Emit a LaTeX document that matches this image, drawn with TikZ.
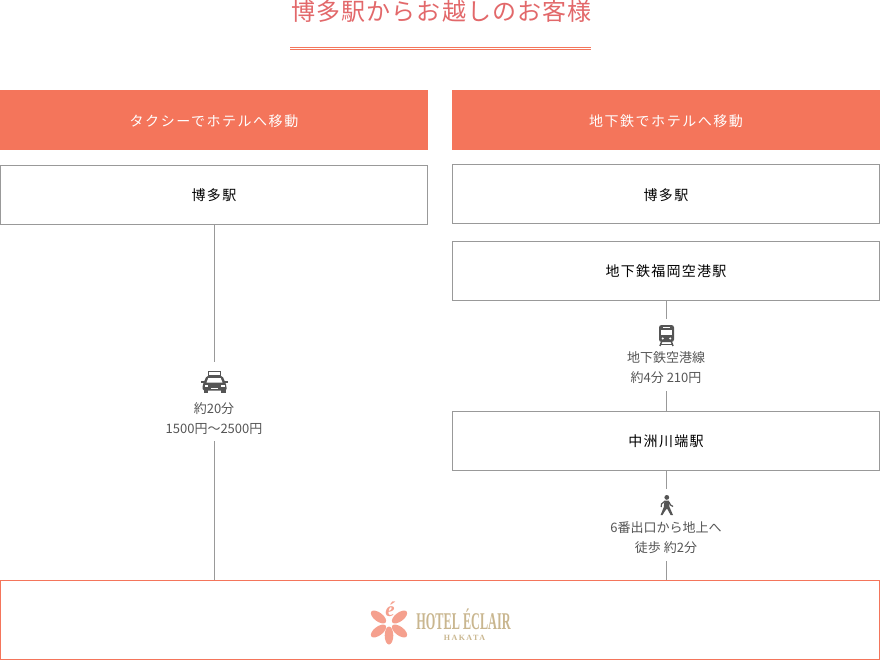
\documentclass[tikz,border=0pt]{standalone}
\usepackage{fontspec}
\setmainfont{Noto Sans CJK JP}
\newfontfamily\logoserif{Liberation Serif}
\definecolor{headerfill}{HTML}{F4755B}
\definecolor{titlered}{HTML}{E2686A}
\definecolor{boxline}{HTML}{999999}
\definecolor{notegray}{HTML}{555555}
\definecolor{icongray}{HTML}{555555}
\definecolor{petal}{HTML}{F5A08E}
\definecolor{logogold}{HTML}{C9B68F}
\begin{document}
\begin{tikzpicture}[x=1pt, y=-1pt,
    headerbox/.style={fill=headerfill, text=white, minimum width=428pt, minimum height=60pt, inner sep=0pt,
      text height=14pt, text depth=0pt,
      font=\fontsize{14}{16}\selectfont\addfontfeatures{LetterSpace=11}},
    stationbox/.style={draw=boxline, line width=0.7pt, fill=white, minimum width=427pt, minimum height=59pt, inner sep=0pt,
      text=black, font=\fontsize{14}{16}\selectfont\addfontfeatures{LetterSpace=9}},
    routeline/.style={draw=boxline, line width=0.7pt},
    iconslot/.style={minimum width=30pt, inner sep=0pt},
    routenote/.style={align=center, inner sep=0pt, text=notegray, minimum height=47pt,
      font=\fontsize{13}{20}\selectfont}]

  \useasboundingbox (0,0) rectangle (880,660);

  % ── Title ──────────────────────────────────────────────────────────
  \node[text=titlered, font=\fontsize{24}{26}\selectfont\addfontfeatures{LetterSpace=4.5}] (pageTitle) at (441.5,11) {博多駅からお越しのお客様};
  \draw[headerfill, line width=0.6pt] (290,47.3) -- (591,47.3);
  \draw[headerfill, line width=0.6pt] (290,49.3) -- (591,49.3);

  % ── Column headers ─────────────────────────────────────────────────
  \node[headerbox] (taxiHeader) at (214,120) {タクシーでホテルへ移動};
  \node[headerbox] (subwayHeader) at (666,120) {地下鉄でホテルへ移動};

  % ── Stations ───────────────────────────────────────────────────────
  \node[stationbox] (hakataLeft) at (214,195) {博多駅};
  \node[stationbox, text height=14pt, text depth=0pt] (hakataRight) at (666,194) {博多駅};
  \node[stationbox] (airportLine) at (666,271) {地下鉄福岡空港駅};
  \node[stationbox] (nakasu) at (666,441) {中洲川端駅};

  % ── Hotel ──────────────────────────────────────────────────────────
  \node[draw=headerfill, line width=0.7pt, minimum width=879pt, minimum height=79pt, inner sep=0pt] (hotelBox) at (440,620) {};

  % ── Route notes ────────────────────────────────────────────────────
  \node[iconslot, minimum height=38pt] (taxiIcon) at (214,381) {};
  \node[routenote, minimum height=45pt] (taxiNote) at (214,418.5) {約20分\\1500円〜2500円};
  \node[iconslot, minimum height=32pt] (trainIcon) at (666,335) {};
  \node[routenote] (trainNote) at (666,367.5) {地下鉄空港線\\約4分 210円};
  \node[iconslot, minimum height=32pt] (walkIcon) at (666,505) {};
  \node[routenote] (walkNote) at (666,537.5) {6番出口から地上へ\\徒歩 約2分};

  % ── Connectors ─────────────────────────────────────────────────────
  \draw[routeline] (hakataLeft.south) -- (taxiIcon.north);
  \draw[routeline] (taxiNote.south) -- (taxiNote.south |- hotelBox.north);
  \draw[routeline] (airportLine.south) -- (trainIcon.north);
  \draw[routeline] (trainNote.south) -- (nakasu.north);
  \draw[routeline] (nakasu.south) -- (walkIcon.north);
  \draw[routeline] (walkNote.south) -- (walkNote.south |- hotelBox.north);

  % ── Taxi icon ──────────────────────────────────────────────────────
  \draw[icongray, line width=0.9pt] (208.8,371.5) rectangle (220.2,375);
  \fill[icongray, rounded corners=1.5pt] (206.5,376) -- (222.5,376) -- (225.5,383) -- (226.5,386) -- (226.5,390.5) -- (202.5,390.5) -- (202.5,386) -- (203.5,383) -- cycle;
  \fill[icongray] (201,380.5) rectangle (205,383);
  \fill[icongray] (224,380.5) rectangle (228,383);
  \fill[icongray] (203.5,390) rectangle (208,393);
  \fill[icongray] (221,390) rectangle (225.5,393);
  \fill[white] (208.3,378) -- (220.7,378) -- (222.5,382.6) -- (206.5,382.6) -- cycle;
  \fill[white] (204.5,385) rectangle (208,387);
  \fill[white] (221,385) rectangle (224.5,387);
  \fill[white] (211,387.5) rectangle (218,388.5);

  % ── Train icon ─────────────────────────────────────────────────────
  \fill[icongray, rounded corners=2.5pt] (659,325) rectangle (674,342);
  \fill[white] (661.3,329.5) rectangle (671.7,335);
  \fill[white] (663,326.8) rectangle (670,327.8);
  \fill[white] (662.8,338.5) circle (1.1);
  \fill[white] (670.2,338.5) circle (1.1);
  \draw[icongray, line width=1.5pt] (661.5,342) -- (660,346);
  \draw[icongray, line width=1.5pt] (671.5,342) -- (673,346);
  \draw[icongray, line width=1.2pt] (660.5,344.6) -- (672.5,344.6);

  % ── Walker icon ────────────────────────────────────────────────────
  \fill[icongray] (666.8,497.4) circle (2.4);
  \fill[icongray] (664.5,500.5) -- (669,500.5) -- (669.5,507) -- (673,515) -- (670.6,515) -- (667,508.5) -- (665,511) -- (662.5,515) -- (660.6,515) -- (663.8,507) -- cycle;
  \draw[icongray, line width=1.2pt] (664.8,501.2) -- (661.5,504) -- (661.2,507);
  \draw[icongray, line width=1.2pt] (669,502) -- (670.5,505) -- (673,506.5);

  % ── Hotel logo ─────────────────────────────────────────────────────
  \foreach \px/\py/\ang in {378.5/617/-37, 399.5/617/37, 378.5/631/37, 399.5/631/-37} {
    \fill[petal] (\px,\py) ellipse[x radius=9, y radius=4.4, rotate=\ang];
  }
  \fill[petal] (389,635.5) ellipse[x radius=4.3, y radius=9];
  \node[text=petal, inner sep=0pt, font=\logoserif\itshape\bfseries\fontsize{21}{21}\selectfont] (logoMark) at (390,609) {é};
  \node[text=logogold, inner sep=0pt, xscale=0.51, font=\logoserif\bfseries\fontsize{24}{24}\selectfont] (logoName) at (463.5,619.5) {HOTEL ÉCLAIR};
  \node[text=logogold, inner sep=0pt, font=\logoserif\bfseries\fontsize{8}{8}\selectfont\addfontfeatures{LetterSpace=18}] (logoCity) at (464.5,637.5) {HAKATA};

\end{tikzpicture}
\end{document}
